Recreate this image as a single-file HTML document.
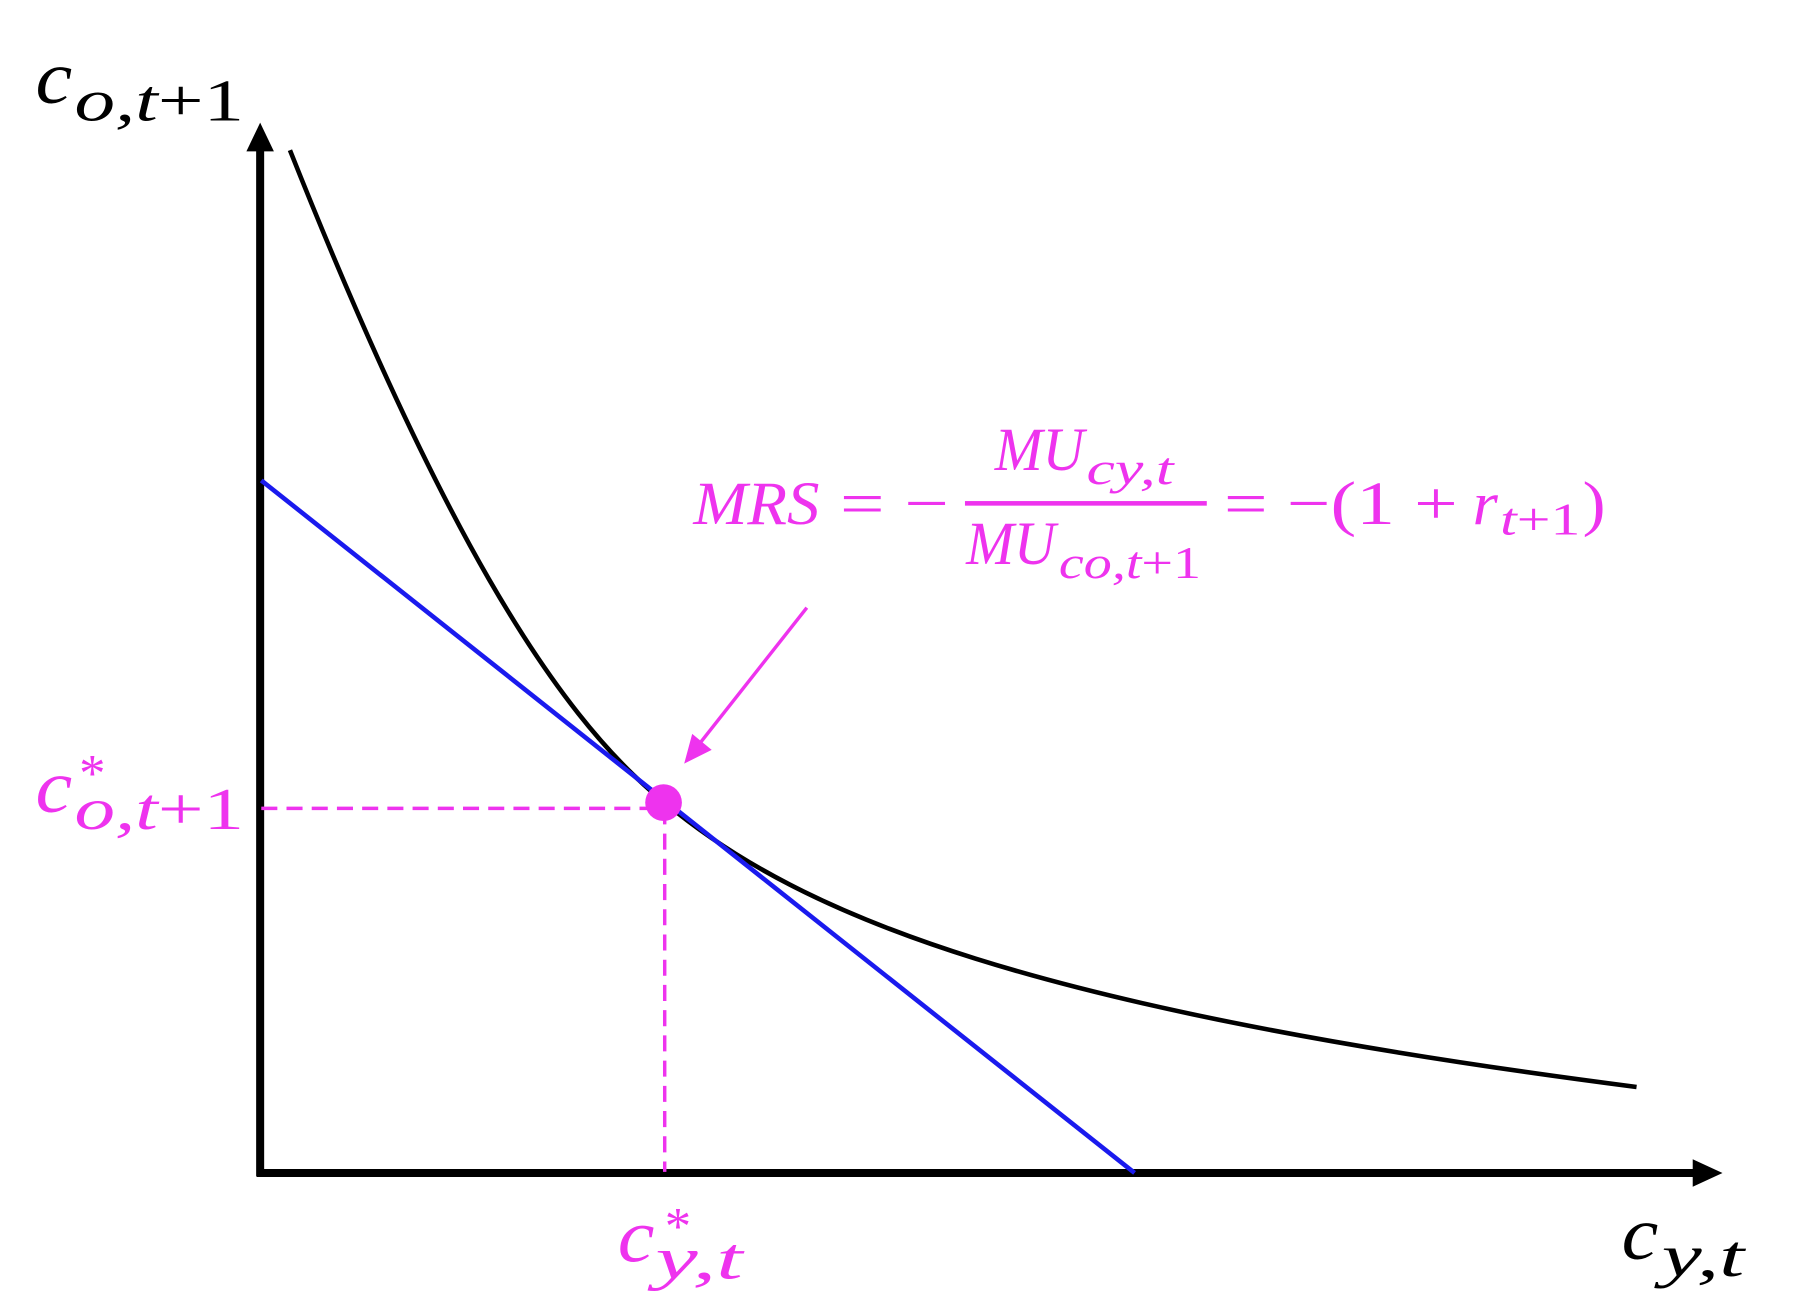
<!DOCTYPE html>
<html><head><style>html,body{margin:0;padding:0;background:#fff}svg{display:block}</style></head>
<body>
<svg width="1797" height="1314" viewBox="0 0 1568 1146" preserveAspectRatio="none" xmlns="http://www.w3.org/2000/svg">
<g font-family="Liberation Serif, serif" font-style="italic">
<!-- axes -->
<line x1="227" y1="1026" x2="227" y2="125" stroke="#000" stroke-width="7"/>
<polygon points="215,132 227,107 239,132" fill="#000"/>
<line x1="224" y1="1023" x2="1482" y2="1023" stroke="#000" stroke-width="7"/>
<polygon points="1477,1011 1503,1023 1477,1035" fill="#000"/>
<!-- curve -->
<path d="M253,131 C380,450 480,620 580,700 C700,800 900,880 1428,948" fill="none" stroke="#000" stroke-width="4"/>
<!-- budget line -->
<line x1="228" y1="419" x2="990" y2="1023" stroke="#1a1aee" stroke-width="4"/>
<!-- dashed -->
<line x1="228" y1="705" x2="579" y2="705" stroke="#ee33ee" stroke-width="3" stroke-dasharray="14,8"/>
<line x1="580" y1="705" x2="580" y2="1022" stroke="#ee33ee" stroke-width="3" stroke-dasharray="14,8"/>
<circle cx="579" cy="700" r="16" fill="#ee33ee"/>
<!-- arrow -->
<line x1="704" y1="530" x2="603" y2="658" stroke="#ee33ee" stroke-width="3"/>
<polygon points="597,666 604,640 621,654" fill="#ee33ee"/>
<!-- labels black -->
<text x="31" y="90" font-size="66" fill="#000" textLength="32" lengthAdjust="spacingAndGlyphs">c</text>
<text x="65" y="105" font-size="52" fill="#000" textLength="148" lengthAdjust="spacingAndGlyphs">o,t<tspan font-style="normal">+1</tspan></text>
<text x="1415" y="1098" font-size="66" fill="#000" textLength="32" lengthAdjust="spacingAndGlyphs">c</text>
<text x="1450" y="1113" font-size="52" fill="#000" textLength="72" lengthAdjust="spacingAndGlyphs">y,t</text>
<!-- labels magenta -->
<g fill="#ee33ee">
<text x="31" y="708" font-size="66" textLength="32" lengthAdjust="spacingAndGlyphs">c</text>
<text x="69" y="690" font-size="46" font-style="normal">*</text>
<text x="65" y="723" font-size="52" textLength="148" lengthAdjust="spacingAndGlyphs">o,t<tspan font-style="normal">+1</tspan></text>
<text x="539" y="1100" font-size="66" textLength="32" lengthAdjust="spacingAndGlyphs">c</text>
<text x="580" y="1085" font-size="46" font-style="normal">*</text>
<text x="572" y="1115" font-size="52" textLength="76" lengthAdjust="spacingAndGlyphs">y,t</text>
<!-- formula -->
<text x="605" y="457" font-size="54" textLength="110" lengthAdjust="spacingAndGlyphs">MRS</text>
<text x="733" y="457" font-size="54" font-style="normal" textLength="95" lengthAdjust="spacingAndGlyphs">= −</text>
<text x="868" y="410" font-size="54" textLength="78" lengthAdjust="spacingAndGlyphs">MU</text>
<text x="948" y="422" font-size="40" textLength="76" lengthAdjust="spacingAndGlyphs">cy,t</text>
<rect x="842" y="437" width="211" height="4"/>
<text x="843" y="492" font-size="54" textLength="78" lengthAdjust="spacingAndGlyphs">MU</text>
<text x="924" y="504" font-size="40" textLength="124" lengthAdjust="spacingAndGlyphs">co,t<tspan font-style="normal">+1</tspan></text>
<text x="1068" y="457" font-size="54" font-style="normal" textLength="204" lengthAdjust="spacingAndGlyphs">= −(1 +</text>
<text x="1285" y="457" font-size="54" textLength="22" lengthAdjust="spacingAndGlyphs">r</text>
<text x="1309" y="466" font-size="40" textLength="70" lengthAdjust="spacingAndGlyphs">t<tspan font-style="normal">+1</tspan></text>
<text x="1381" y="457" font-size="54" font-style="normal" textLength="20" lengthAdjust="spacingAndGlyphs">)</text>
</g>
</g>
</svg>
</body></html>
